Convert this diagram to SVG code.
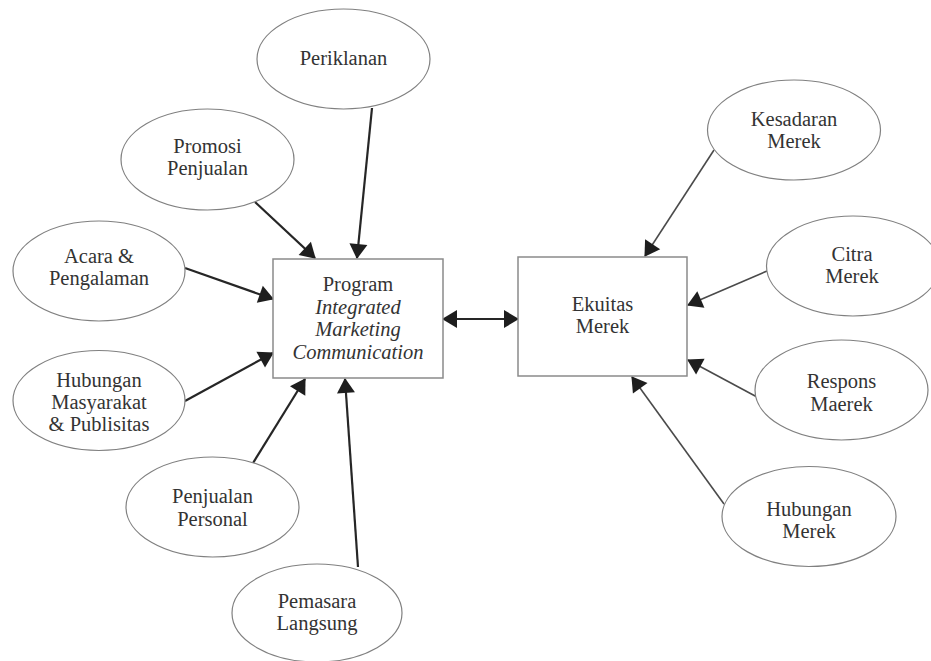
<svg xmlns="http://www.w3.org/2000/svg" width="931" height="661" viewBox="0 0 931 661">
<style>
.e{fill:#fff;stroke:#808080;stroke-width:1.2}
.b{fill:#fff;stroke:#8a8a8a;stroke-width:1.5}
text{font-family:"Liberation Serif","Times New Roman",serif;font-size:20.5px;fill:#333;text-anchor:middle}
.i{font-style:italic}
.cl{stroke:#262626;stroke-width:2.2;fill:none}
.cr{stroke:#4a4a4a;stroke-width:1.6;fill:none}
</style>
<defs>
<marker id="ah" markerUnits="userSpaceOnUse" markerWidth="20" markerHeight="20" refX="14" refY="0" viewBox="0 -10 16 20" orient="auto-start-reverse">
<path d="M0,-9 L15,0 L0,9 z" fill="#1e1e1e"/>
</marker>
</defs>
<rect width="931" height="661" fill="#fff"/>
<g id="connectors">
<line class="cl" x1="372" y1="108" x2="357" y2="258" marker-end="url(#ah)"/>
<line class="cl" x1="255" y1="202" x2="315" y2="258" marker-end="url(#ah)"/>
<line class="cl" x1="185" y1="268" x2="273" y2="299" marker-end="url(#ah)"/>
<line class="cl" x1="185" y1="401" x2="273" y2="353" marker-end="url(#ah)"/>
<line class="cl" x1="253" y1="463" x2="305" y2="379" marker-end="url(#ah)"/>
<line class="cl" x1="358" y1="567" x2="345" y2="379" marker-end="url(#ah)"/>
<line class="cl" x1="443" y1="319" x2="518" y2="319" marker-start="url(#ah)" marker-end="url(#ah)"/>
<line class="cr" x1="714" y1="150" x2="645" y2="256" marker-end="url(#ah)"/>
<line class="cr" x1="767" y1="271" x2="688" y2="305" marker-end="url(#ah)"/>
<line class="cr" x1="757" y1="397" x2="688" y2="360" marker-end="url(#ah)"/>
<line class="cr" x1="724" y1="504" x2="632" y2="377" marker-end="url(#ah)"/>
</g>
<g id="periklanan"><ellipse class="e" cx="343.5" cy="59" rx="86.5" ry="50"/><text x="343.5" y="65">Periklanan</text></g>
<g id="promosi"><ellipse class="e" cx="207.5" cy="159.5" rx="86.5" ry="50.5"/><text x="207.5" y="153">Promosi</text><text x="207.5" y="175">Penjualan</text></g>
<g id="acara"><ellipse class="e" cx="99" cy="271" rx="86" ry="50"/><text x="99" y="263">Acara &amp;</text><text x="99" y="285">Pengalaman</text></g>
<g id="hubungan-masyarakat"><ellipse class="e" cx="99" cy="400.5" rx="86" ry="50"/><text x="99" y="387">Hubungan</text><text x="99" y="409">Masyarakat</text><text x="99" y="431">&amp; Publisitas</text></g>
<g id="penjualan-personal"><ellipse class="e" cx="212.5" cy="507" rx="86.5" ry="50"/><text x="212.5" y="503">Penjualan</text><text x="212.5" y="526">Personal</text></g>
<g id="pemasara"><ellipse class="e" cx="317" cy="613" rx="85" ry="49"/><text x="317" y="608">Pemasara</text><text x="317" y="630">Langsung</text></g>
<g id="program"><rect class="b" x="273" y="259" width="170" height="119"/><text x="358" y="291">Program</text><text class="i" x="358" y="314">Integrated</text><text class="i" x="358" y="336">Marketing</text><text class="i" x="358" y="359">Communication</text></g>
<g id="ekuitas"><rect class="b" x="518" y="257" width="169" height="119"/><text x="602.5" y="311">Ekuitas</text><text x="602.5" y="333">Merek</text></g>
<g id="kesadaran"><ellipse class="e" cx="794" cy="130" rx="86.5" ry="50"/><text x="794" y="126">Kesadaran</text><text x="794" y="148">Merek</text></g>
<g id="citra"><ellipse class="e" cx="853" cy="266" rx="86.5" ry="50"/><text x="852" y="261">Citra</text><text x="852" y="283">Merek</text></g>
<g id="respons"><ellipse class="e" cx="841.5" cy="390" rx="86.5" ry="50"/><text x="841.5" y="388">Respons</text><text x="841.5" y="411">Maerek</text></g>
<g id="hubungan-merek"><ellipse class="e" cx="809" cy="516.5" rx="87" ry="50"/><text x="809" y="516">Hubungan</text><text x="809" y="538">Merek</text></g>
</svg>
